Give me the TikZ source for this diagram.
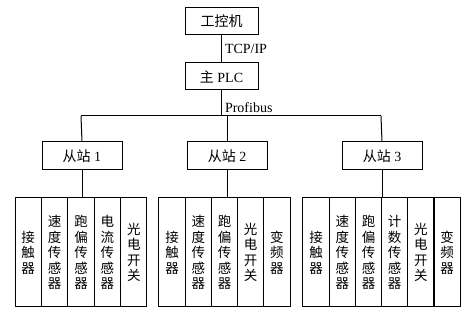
\documentclass[tikz,border=0pt]{standalone}
\usepackage{fontspec}
\setmainfont{Liberation Serif}
\newfontfamily\cjk{Noto Sans CJK SC}
\usetikzlibrary{positioning}

\begin{document}
\begin{tikzpicture}[
        x=1pt, y=-1pt,
        box/.style={draw, line width=1pt, minimum width=73pt, minimum height=27pt, inner sep=0pt, font=\fontsize{14}{16}\selectfont},
        slave/.style={box, minimum width=80pt, minimum height=28pt},
        dev/.style={draw, line width=1pt, minimum width=26.3pt, minimum height=109pt, inner sep=0pt, align=center, font=\cjk\fontsize{13.5}{15.5}\selectfont},
        link/.style={line width=1pt},
        lbl/.style={anchor=west, inner sep=1pt, font=\fontsize{14}{16}\selectfont}
    ]
        \useasboundingbox (0,0) rectangle (475,315);

        % Top: PC and master PLC
        \node[box] (pc) at (221.5,21) {\cjk 工控机};
        \node[box] (plc) at (221.5,76.5) {{\cjk 主} PLC};
        \draw[link] (pc) -- (plc) node[midway, lbl, xshift=2pt] {TCP/IP};

        % Profibus line
        \coordinate (busL) at (81,116);
        \coordinate (busR) at (381,116);
        \draw[link] (plc.south) -- (plc.south |- busL) node[midway, lbl, xshift=2pt, yshift=-4pt] {Profibus};
        \draw[link] (busL) -- (busR);

        % Slave stations
        \node[slave] (s1) at (82,156) {{\cjk 从站} 1};
        \node[slave] (s2) at (227,156) {{\cjk 从站} 2};
        \node[slave] (s3) at (382,156) {{\cjk 从站} 3};
        \draw[link] (busL) -- (s1.north);
        \draw[link] (s2.north |- busL) -- (s2.north);
        \draw[link] (busR) -- (s3.north);

        % Field devices
        \foreach \t [count=\i] in {{接\\触\\器},{速\\度\\传\\感\\器},{跑\\偏\\传\\感\\器},{电\\流\\传\\感\\器},{光\\电\\开\\关}}
            \node[dev] (g1-\i) at ({15+13.2+26.4*(\i-1)},252.5) {\t};
        \foreach \t [count=\i] in {{接\\触\\器},{速\\度\\传\\感\\器},{跑\\偏\\传\\感\\器},{光\\电\\开\\关},{变\\频\\器}}
            \node[dev] (g2-\i) at ({159+13.1+26.2*(\i-1)},252.5) {\t};
        \foreach \t [count=\i] in {{接\\触\\器},{速\\度\\传\\感\\器},{跑\\偏\\传\\感\\器},{计\\数\\传\\感\\器},{光\\电\\开\\关},{变\\频\\器}}
            \node[dev] (g3-\i) at ({303+13.1+26.2*(\i-1)},252.5) {\t};

        \draw[link] (s1.south) -- (s1.south |- g1-1.north);
        \draw[link] (s2.south) -- (s2.south |- g2-1.north);
        \draw[link] (s3.south) -- (s3.south |- g3-1.north);
    \end{tikzpicture}
\end{document}
